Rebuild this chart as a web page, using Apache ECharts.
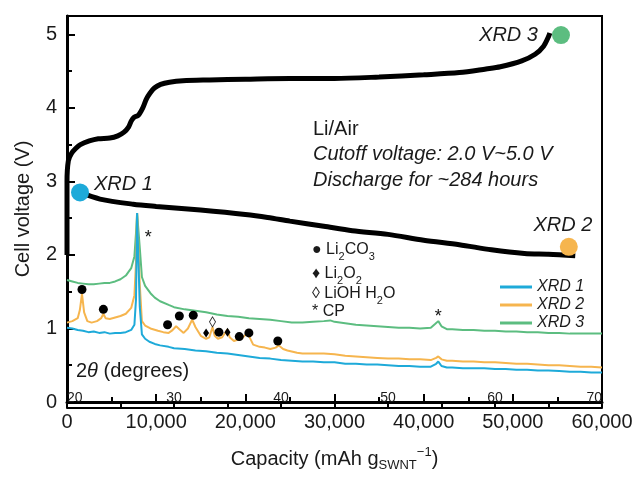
<!DOCTYPE html>
<html><head><meta charset="utf-8">
<script src="https://cdn.jsdelivr.net/npm/echarts@6/dist/echarts.min.js"></script>
<style>html,body{margin:0;padding:0;background:#fff}#c{width:636px;height:477px}</style>
</head><body><div id="c"></div>
<script>
// ---- data (capacity in mAh/g, voltage in V) ----
const chargeCapacity = [0, 0, 150, 500, 1000, 1500, 2500, 3500, 4800, 5700, 6400, 6900, 7200, 7500, 8000, 8500, 8900, 9300, 9800, 10500, 11500, 13000, 16000, 20000, 25000, 30000, 35000, 40000, 44000, 47000, 48600, 51000, 52500, 53450, 54000, 54150];
const chargeVoltage  = [2.0, 3.0, 3.28, 3.38, 3.45, 3.50, 3.55, 3.58, 3.59, 3.62, 3.67, 3.74, 3.82, 3.87, 3.90, 4.00, 4.12, 4.20, 4.27, 4.32, 4.35, 4.37, 4.38, 4.39, 4.40, 4.40, 4.42, 4.45, 4.48, 4.53, 4.56, 4.64, 4.73, 4.84, 4.97, 5.02];
const dischargeCapacity = [1460, 3700, 7430, 10000, 14970, 20000, 22500, 25000, 28800, 32000, 36000, 40000, 44000, 47600, 51300, 54000, 57000];
const dischargeVoltage  = [2.85, 2.76, 2.69, 2.66, 2.61, 2.55, 2.51, 2.46, 2.39, 2.33, 2.28, 2.20, 2.14, 2.07, 2.02, 2.01, 1.99];

// XRD measurement points on the voltage curve
const xrdPointNames = ['XRD 1', 'XRD 2', 'XRD 3'];
const xrdPointCapacity = [1460, 56280, 55400];
const xrdPointVoltage = [2.85, 2.11, 4.99];

// ---- XRD patterns (2θ in degrees, offset intensity on voltage scale) ----
const xrd1Theta = [20.0,20.5,21.0,21.5,22.0,22.5,23.0,23.5,24.0,24.5,25.0,25.5,26.0,26.3,26.45,26.55,26.7,26.8,27.0,27.3,27.7,28.2,28.7,29.5,30.0,31.0,32.0,33.0,34.0,35.0,36.0,37.0,38.0,39.0,40.0,41.0,42.0,43.0,44.0,45.0,46.0,47.0,48.0,49.0,50.0,51.0,52.0,53.0,54.0,54.5,54.7,55.0,55.5,56.0,57.0,58.0,59.0,60.0,61.0,62.0,63.0,64.0,65.0,66.0,67.0,68.0,69.0,70.0];
const xrd1Value = [1.01,1.00,0.98,0.97,0.95,0.96,0.94,0.95,0.93,0.94,0.94,0.95,0.98,1.05,1.40,2.57,2.57,1.30,0.92,0.86,0.82,0.79,0.77,0.75,0.73,0.72,0.70,0.69,0.67,0.66,0.64,0.62,0.60,0.59,0.57,0.56,0.55,0.55,0.54,0.54,0.52,0.52,0.51,0.51,0.50,0.49,0.49,0.48,0.48,0.52,0.55,0.49,0.47,0.47,0.46,0.46,0.46,0.45,0.45,0.44,0.44,0.43,0.43,0.42,0.41,0.41,0.40,0.40];

const xrd2Theta = [20.0,20.5,21.0,21.2,21.4,21.6,21.9,22.3,22.8,23.2,23.4,23.6,24.0,24.5,25.0,25.5,26.0,26.3,26.45,26.55,26.7,26.8,27.0,27.3,27.8,28.5,29.0,29.5,29.8,30.2,30.5,30.9,31.3,31.7,32.0,32.5,33.0,33.3,33.6,33.8,34.1,34.5,35.0,35.2,35.6,36.0,36.3,36.8,37.0,37.4,38.0,38.5,39.0,39.5,39.8,40.2,40.6,41.5,42.0,43.0,44.0,45.0,46.0,47.0,48.0,49.0,50.0,51.0,52.0,53.0,54.0,54.5,54.7,55.0,55.5,56.0,57.0,58.0,59.0,60.0,61.0,62.0,63.0,64.0,65.0,66.0,67.0,68.0,69.0,70.0];
const xrd2Value = [1.08,1.10,1.14,1.25,1.47,1.22,1.10,1.08,1.10,1.14,1.20,1.14,1.13,1.15,1.17,1.20,1.28,1.45,1.90,2.57,2.57,1.60,1.10,1.04,1.00,0.97,0.95,0.94,0.97,1.03,0.99,0.94,1.00,1.12,1.02,0.90,0.86,0.88,1.02,0.90,0.86,0.88,0.99,0.88,0.83,0.85,0.86,0.93,0.90,0.78,0.75,0.74,0.72,0.74,0.77,0.72,0.70,0.67,0.66,0.66,0.66,0.65,0.63,0.62,0.61,0.60,0.59,0.59,0.58,0.58,0.57,0.60,0.62,0.58,0.56,0.56,0.55,0.55,0.54,0.54,0.53,0.52,0.52,0.51,0.50,0.50,0.49,0.48,0.48,0.47];

const xrd3Theta = [20.0,20.5,21.0,21.5,22.0,22.5,23.0,23.5,24.0,24.5,25.0,25.5,26.0,26.3,26.45,26.55,26.7,26.8,27.0,27.3,27.8,28.2,28.7,29.5,30.0,31.0,32.0,33.0,34.0,35.0,36.0,37.0,38.0,39.0,40.0,41.0,42.0,43.0,44.0,44.6,45.0,46.0,47.0,48.0,49.0,50.0,51.0,52.0,53.0,54.0,54.4,54.7,55.0,55.5,56.0,57.0,58.0,59.0,60.0,61.0,62.0,63.0,64.0,65.0,66.0,67.0,68.0,69.0,70.0];
const xrd3Value = [1.66,1.64,1.62,1.61,1.60,1.60,1.61,1.62,1.62,1.64,1.67,1.72,1.82,1.98,2.30,2.57,2.57,2.10,1.70,1.58,1.48,1.42,1.37,1.32,1.29,1.26,1.24,1.22,1.19,1.17,1.16,1.14,1.13,1.12,1.10,1.08,1.08,1.09,1.10,1.11,1.09,1.07,1.05,1.04,1.03,1.02,1.01,1.01,1.00,1.01,1.06,1.10,1.03,0.99,0.99,0.98,0.98,0.97,0.97,0.96,0.96,0.95,0.95,0.94,0.94,0.93,0.93,0.93,0.93];

// phase markers
const li2co3Theta = [21.4, 23.4, 29.4, 30.5, 31.8, 34.2, 36.1, 37.0, 39.7];
const li2co3Value = [1.53, 1.26, 1.05, 1.17, 1.18, 0.95, 0.89, 0.94, 0.83];
const li2o2Theta = [33.0, 35.0];
const li2o2Value = [0.94, 0.95];
const liohTheta = [33.6];
const liohValue = [1.09];
const cpTheta = [27.6, 54.7];
const cpValue = [2.27, 1.20];

// axis ticks
const capacityMin = 0, capacityMax = 60000, capacityStep = 10000;
const voltageMin = 0, voltageMax = 5.25, voltageStep = 1;
const thetaMin = 20, thetaMax = 70, thetaStep = 5;

// ---- build ----
const zip = (a, b) => a.map((v, i) => [v, b[i]]);
const BLUE = '#1eaad9', ORANGE = '#f6b54e', GREEN = '#5cbd80';
const FONT = '"Liberation Sans", Arial, sans-serif';
const TXT = '#1a1a1a';

const chart = echarts.init(document.getElementById('c'));
const pointColors = [BLUE, ORANGE, GREEN];
const pointLabels = [
  {position: 'right', distance: 5, offset: [0, -8]},
  {position: 'top', distance: 2, offset: [-6, 0]},
  {position: 'left', distance: 14, offset: [0, 0]}
];

const series = [
  {name: 'XRD 3', type: 'line', xAxisIndex: 1, yAxisIndex: 0, data: zip(xrd3Theta, xrd3Value), showSymbol: false, lineStyle: {color: GREEN, width: 2}, itemStyle: {color: GREEN}, z: 2},
  {name: 'XRD 2', type: 'line', xAxisIndex: 1, yAxisIndex: 0, data: zip(xrd2Theta, xrd2Value), showSymbol: false, lineStyle: {color: ORANGE, width: 2}, itemStyle: {color: ORANGE}, z: 3},
  {name: 'XRD 1', type: 'line', xAxisIndex: 1, yAxisIndex: 0, data: zip(xrd1Theta, xrd1Value), showSymbol: false, lineStyle: {color: BLUE, width: 2}, itemStyle: {color: BLUE}, z: 4},
  {name: 'charge', type: 'line', xAxisIndex: 0, yAxisIndex: 0, data: zip(chargeCapacity, chargeVoltage), showSymbol: false, smooth: 0.3, lineStyle: {color: '#000', width: 5}, z: 5},
  {name: 'discharge', type: 'line', xAxisIndex: 0, yAxisIndex: 0, data: zip(dischargeCapacity, dischargeVoltage), showSymbol: false, smooth: 0.3, lineStyle: {color: '#000', width: 5}, z: 5},
  {name: 'Li2CO3', type: 'scatter', xAxisIndex: 1, yAxisIndex: 0, data: zip(li2co3Theta, li2co3Value), symbol: 'circle', symbolSize: 9, itemStyle: {color: '#000', opacity: 1}, z: 6},
  {name: 'Li2O2', type: 'scatter', xAxisIndex: 1, yAxisIndex: 0, data: zip(li2o2Theta, li2o2Value), symbol: 'diamond', symbolSize: [6, 9], itemStyle: {color: '#000', opacity: 1}, z: 6},
  {name: 'LiOH', type: 'scatter', xAxisIndex: 1, yAxisIndex: 0, data: zip(liohTheta, liohValue), symbol: 'diamond', symbolSize: [6, 10], itemStyle: {color: '#fff', borderColor: '#333', borderWidth: 1, opacity: 1}, z: 6},
  {name: 'CP', type: 'scatter', xAxisIndex: 1, yAxisIndex: 0, data: zip(cpTheta, cpValue), symbolSize: 1, itemStyle: {color: 'rgba(0,0,0,0)', opacity: 1},
    label: {show: true, position: 'inside', formatter: '*', fontSize: 18, color: '#111', fontFamily: FONT, offset: [0, 3]}, z: 6}
];
xrdPointNames.forEach((n, i) => {
  series.push({
    name: 'pt' + (i + 1), type: 'scatter', xAxisIndex: 0, yAxisIndex: 0,
    data: [[xrdPointCapacity[i], xrdPointVoltage[i]]],
    symbol: 'circle', symbolSize: 18, itemStyle: {color: pointColors[i], opacity: 1}, z: 7,
    label: Object.assign({show: true, formatter: n, fontSize: 20, fontStyle: 'italic', color: TXT, fontFamily: FONT, opacity: 1}, pointLabels[i])
  });
});

const chem = (t, y) => ({type: 'text', left: 312, top: y, z: 10,
  style: {text: t, fontSize: 16, fill: TXT, fontFamily: FONT,
    rich: {s: {fontSize: 11, verticalAlign: 'bottom', lineHeight: 11, fontFamily: FONT, fill: TXT, padding: [0, 0, -2, 0]},
           n: {fontSize: 16, lineHeight: 20, fontFamily: FONT, fill: TXT}}}});

const option = {
  animation: false,
  backgroundColor: '#fff',
  textStyle: {fontFamily: FONT},
  grid: [
    {left: 67, right: 34, top: 16, bottom: 69, show: true, borderColor: '#000', borderWidth: 2, backgroundColor: 'transparent'},
    {left: 67, right: 34, top: 384, height: 24}
  ],
  legend: {
    data: ['XRD 1', 'XRD 2', 'XRD 3'], orient: 'vertical', left: 495, top: 274,
    icon: 'rect', itemWidth: 32, itemHeight: 3, itemGap: 2,
    textStyle: {fontSize: 16, fontStyle: 'italic', color: TXT, fontFamily: FONT, lineHeight: 16}
  },
  xAxis: [
    {type: 'value', gridIndex: 0, min: capacityMin, max: capacityMax, interval: capacityStep, position: 'bottom',
     axisLine: {lineStyle: {color: '#000', width: 3}},
     axisTick: {inside: true, length: 8, lineStyle: {color: '#000', width: 2}},
     minorTick: {show: true, splitNumber: 2, length: 5, lineStyle: {color: '#000', width: 2}},
     splitLine: {show: false},
     axisLabel: {fontSize: 20, color: TXT, margin: 10, fontFamily: FONT,
       formatter: v => v.toLocaleString('en-US')},
     name: 'Capacity (mAh g{s|SWNT}{p|\u22121})', nameLocation: 'middle', nameGap: 44,
     nameTextStyle: {fontSize: 20, color: TXT, fontFamily: FONT, lineHeight: 26,
       rich: {s: {fontSize: 13, verticalAlign: 'bottom', lineHeight: 13, fontFamily: FONT, color: TXT},
              p: {fontSize: 13, verticalAlign: 'top', lineHeight: 13, fontFamily: FONT, color: TXT}}}},
    {type: 'value', gridIndex: 0, min: thetaMin, max: thetaMax, show: false},
    {type: 'value', gridIndex: 1, min: thetaMin, max: thetaMax, interval: thetaStep, position: 'top',
     axisLine: {lineStyle: {color: '#000', width: 2}},
     axisTick: {inside: false, length: 4, lineStyle: {color: '#000', width: 2}},
     splitLine: {show: false},
     axisLabel: {inside: true, fontSize: 14, color: TXT, margin: 7, fontFamily: FONT,
       alignMinLabel: 'left', alignMaxLabel: 'right',
       formatter: v => (v % 10 === 0 ? String(v) : '')}}
  ],
  yAxis: [
    {type: 'value', gridIndex: 0, min: voltageMin, max: voltageMax, interval: voltageStep,
     axisLine: {show: true, lineStyle: {color: '#000', width: 3}},
     axisTick: {inside: true, length: 8, lineStyle: {color: '#000', width: 2}},
     minorTick: {show: true, splitNumber: 2, length: 5, lineStyle: {color: '#000', width: 2}},
     splitLine: {show: false},
     axisLabel: {fontSize: 20, color: TXT, margin: 10, fontFamily: FONT,
       formatter: v => (Number.isInteger(v) ? String(v) : '')},
     name: 'Cell voltage (V)', nameLocation: 'middle', nameGap: 34,
     nameTextStyle: {fontSize: 20, color: TXT, fontFamily: FONT}},
    {type: 'value', gridIndex: 1, min: 0, max: 1, show: false}
  ],
  graphic: [
    {type: 'text', left: 313, top: 119, z: 10, style: {text: 'Li/Air', fontSize: 20, fill: TXT, fontFamily: FONT}},
    {type: 'text', left: 313, top: 144, z: 10, style: {text: 'Cutoff voltage: 2.0 V~5.0 V', fontSize: 20, fontStyle: 'italic', fill: TXT, fontFamily: FONT}},
    {type: 'text', left: 313, top: 170, z: 10, style: {text: 'Discharge for ~284 hours', fontSize: 20, fontStyle: 'italic', fill: TXT, fontFamily: FONT}},
    {type: 'text', left: 76, top: 361, z: 10, style: {text: '2{i|\u03b8} (degrees)', fontSize: 20, fill: TXT, fontFamily: FONT,
       rich: {i: {fontSize: 20, fontStyle: 'italic', fontFamily: FONT, fill: TXT}}}},
    chem('{n|\u25cf Li}{s|2}{n|CO}{s|3}', 242),
    chem('{n|\u2666 Li}{s|2}{n|O}{s|2}', 266),
    chem('{n|\u25ca LiOH H}{s|2}{n|O}', 286),
    chem('{n|* CP}', 304)
  ],
  series: series
};
chart.setOption(option);
</script>
</body></html>
